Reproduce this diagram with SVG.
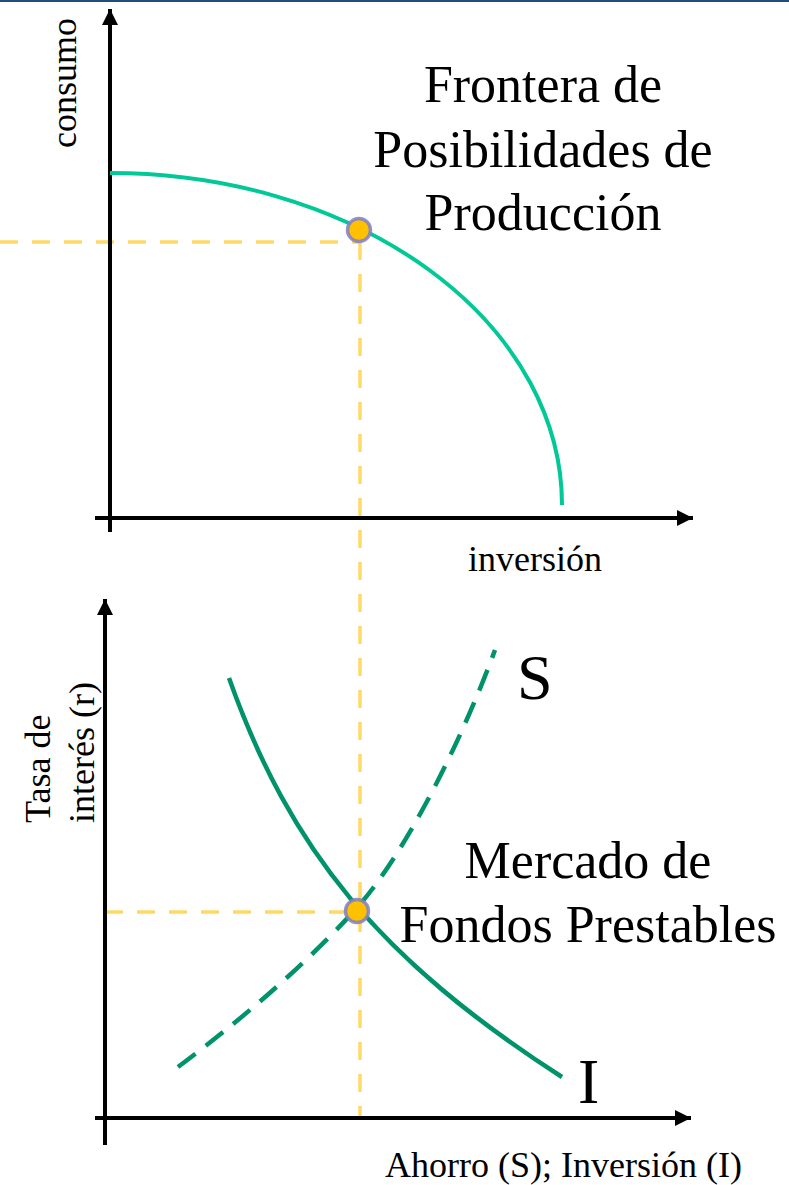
<svg xmlns="http://www.w3.org/2000/svg" width="789" height="1185" viewBox="0 0 789 1185">
<style>
.axis{stroke:#000;stroke-width:4;fill:none}
.guide{stroke:#FFD966;stroke-width:3.5;fill:none;stroke-dasharray:18 14}
.dot{fill:#FFC000;stroke:#7F7FC8;stroke-opacity:0.85;stroke-width:3.5}
.lbl{font-family:"Liberation Serif","Times New Roman",serif;fill:#000}
</style>
<defs>
<marker id="arr" markerUnits="userSpaceOnUse" markerWidth="20" markerHeight="20" refX="16" refY="8" orient="auto">
<path d="M0,0 L16,8 L0,16 Z" fill="#000"/>
</marker>
</defs>
<rect x="0" y="0" width="789" height="2" fill="#1F4E79"/>
<g id="guides">
<path class="guide" d="M0,242 H360"/>
<path class="guide" d="M360,242 V1118"/>
<path class="guide" d="M105,912 H357"/>
</g>
<g id="top-axes">
<path class="axis" d="M110,532 V9" marker-end="url(#arr)"/>
<path class="axis" d="M95,518 H693" marker-end="url(#arr)"/>
</g>
<g id="bottom-axes">
<path class="axis" d="M105,1145 V599" marker-end="url(#arr)"/>
<path class="axis" d="M95,1118 H691" marker-end="url(#arr)"/>
</g>
<g id="connectors">
<path id="fpp" d="M110,173 A452,332 0 0 1 562,505" fill="none" stroke="#00C896" stroke-width="4"/>
<path id="curve-I" d="M229,678 C290,850 380,960 562,1077" fill="none" stroke="#00936B" stroke-width="4.5"/>
<path id="curve-S" d="M178,1067 C237,1023 301,969 355,910 C405,855 462,740 495,650" fill="none" stroke="#00936B" stroke-width="4.5" stroke-dasharray="22 13"/>
</g>
<g id="point-top"><circle class="dot" cx="359" cy="230" r="11.5"/></g>
<g id="point-bottom"><circle class="dot" cx="357" cy="911" r="11.5"/></g>
<g id="label-consumo"><text class="lbl" font-size="36" text-anchor="middle" transform="translate(76,83) rotate(-90)">consumo</text></g>
<g id="label-fpp">
<text class="lbl" font-size="52" text-anchor="middle" x="543" y="102">Frontera de</text>
<text class="lbl" font-size="52" text-anchor="middle" x="543" y="167">Posibilidades de</text>
<text class="lbl" font-size="52" text-anchor="middle" x="543" y="230">Producción</text>
</g>
<g id="label-inversion"><text class="lbl" font-size="36" x="468" y="571">inversión</text></g>
<g id="label-tasa">
<text class="lbl" font-size="36" transform="translate(50,823) rotate(-90)">Tasa de</text>
<text class="lbl" font-size="36" transform="translate(94,823) rotate(-90)">interés (r)</text>
</g>
<g id="label-S"><text class="lbl" font-size="64" x="517" y="699">S</text></g>
<g id="label-I"><text class="lbl" font-size="64" x="578" y="1103">I</text></g>
<g id="label-mercado">
<text class="lbl" font-size="52" text-anchor="middle" x="588" y="878">Mercado de</text>
<text class="lbl" font-size="52" text-anchor="middle" x="588" y="942">Fondos Prestables</text>
</g>
<g id="label-ahorro"><text class="lbl" font-size="36" x="385" y="1177">Ahorro (S); Inversión (I)</text></g>
</svg>
